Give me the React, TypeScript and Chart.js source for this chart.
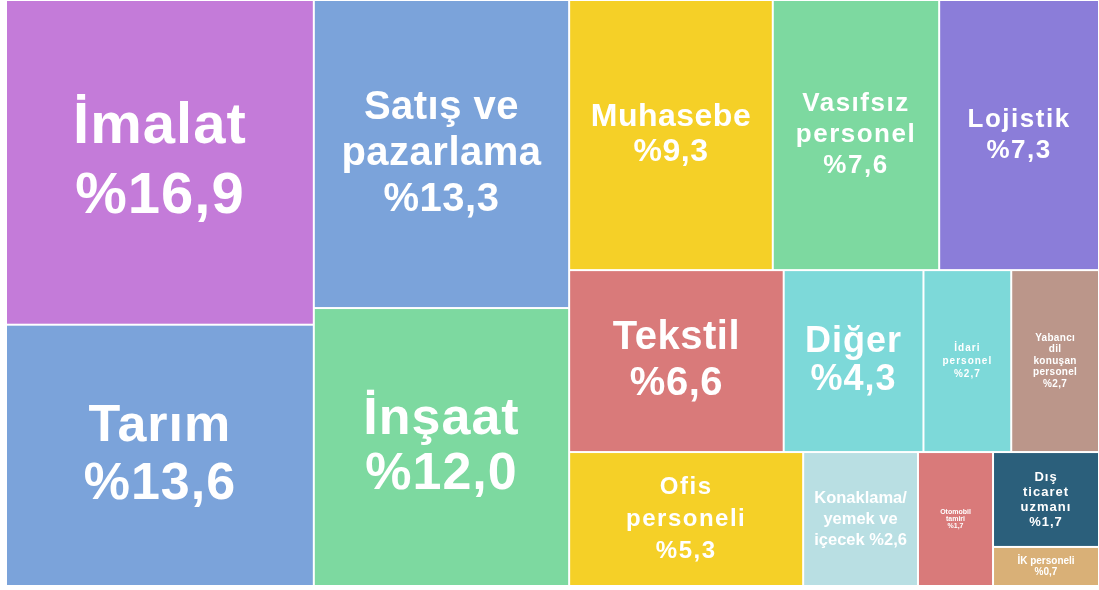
import React, { useEffect, useRef } from "react";
import { Chart, registerables } from "chart.js";

Chart.register(...registerables);

// ---- data ----
const categories = [
  "İmalat", "Tarım", "Satış ve pazarlama", "İnşaat",
  "Muhasebe", "Vasıfsız personel", "Lojistik",
  "Tekstil", "Ofis personeli", "Diğer", "Konaklama/yemek ve içecek",
  "İdari personel", "Yabancı dil konuşan personel",
  "Otomobil tamiri", "Dış ticaret uzmanı", "İK personeli",
];
const values = [16.9, 13.6, 13.3, 12.0, 9.3, 7.6, 7.3, 6.6, 5.3, 4.3, 2.6, 2.7, 2.7, 1.7, 1.7, 0.7];
const labelLines = [
  ["İmalat", "%16,9"],
  ["Tarım", "%13,6"],
  ["Satış ve", "pazarlama", "%13,3"],
  ["İnşaat", "%12,0"],
  ["Muhasebe", "%9,3"],
  ["Vasıfsız", "personel", "%7,6"],
  ["Lojistik", "%7,3"],
  ["Tekstil", "%6,6"],
  ["Ofis", "personeli", "%5,3"],
  ["Diğer", "%4,3"],
  ["Konaklama/", "yemek ve", "içecek %2,6"],
  ["İdari", "personel", "%2,7"],
  ["Yabancı", "dil", "konuşan", "personel", "%2,7"],
  ["Otomobil", "tamiri", "%1,7"],
  ["Dış", "ticaret", "uzmanı", "%1,7"],
  ["İK personeli", "%0,7"],
];

// ---- styles ----
const colors = [
  "#C47BD9", "#7BA3DA", "#7BA3DA", "#7DD9A0",
  "#F5D027", "#7DD9A0", "#8B7DD9",
  "#D97A7A", "#F5D027", "#7DD9D9", "#B9DFE3",
  "#7DD9D9", "#BB968A",
  "#D97A7A", "#2B5F7B", "#D9B077",
];
const fontSizes = [58, 52, 40, 52, 32, 26, 26, 40, 24, 36, 16.5, 10, 10, 7, 13, 10];
const lineHeights = [70, 58, 46, 55, 35, 31, 31, 46, 32, 38, 21, 13, 11.5, 7, 15, 11];
const letterSpacings = [1, 1, 0.5, 1, 0.5, 1.5, 1.5, 0.5, 1.5, 1, 0, 1, 0.3, 0, 1, 0];

// ---- treemap structure (indices into the arrays above) ----
type Node = number | { dir: "h" | "v"; children: Node[] };
const tree: Node = {
  dir: "h",
  children: [
    { dir: "v", children: [0, 1] },
    { dir: "v", children: [2, 3] },
    {
      dir: "v",
      children: [
        { dir: "h", children: [4, 5, 6] },
        {
          dir: "v",
          children: [
            { dir: "h", children: [7, 9, 11, 12] },
            { dir: "h", children: [8, 10, 13, { dir: "v", children: [14, 15] }] },
          ],
        },
      ],
    },
  ],
};

function sumNode(n: Node): number {
  if (typeof n === "number") return values[n];
  return n.children.reduce((s, c) => s + sumNode(c), 0);
}

type Cell = { i: number; x0: number; y0: number; x1: number; y1: number };
function layout(n: Node, x0: number, y0: number, x1: number, y1: number, out: Cell[]) {
  if (typeof n === "number") {
    out.push({ i: n, x0, y0, x1, y1 });
    return;
  }
  const total = sumNode(n);
  let pos = n.dir === "h" ? x0 : y0;
  for (const c of n.children) {
    const frac = sumNode(c) / total;
    if (n.dir === "h") {
      const w = (x1 - x0) * frac;
      layout(c, pos, y0, pos + w, y1, out);
      pos += w;
    } else {
      const h = (y1 - y0) * frac;
      layout(c, x0, pos, x1, pos + h, out);
      pos += h;
    }
  }
}

const treemapPlugin = {
  id: "treemapCells",
  afterDatasetsDraw(chart: any) {
    const { ctx, scales } = chart;
    const xs = scales.x;
    const ys = scales.y;
    const cells: Cell[] = [];
    layout(tree, 0, 0, 1, 1, cells);
    ctx.save();
    for (const c of cells) {
      const px0 = xs.getPixelForValue(c.x0);
      const px1 = xs.getPixelForValue(c.x1);
      const py0 = ys.getPixelForValue(c.y0);
      const py1 = ys.getPixelForValue(c.y1);
      const l = Math.min(px0, px1) + 1;
      const r = Math.max(px0, px1) - 1;
      const t = Math.min(py0, py1) + 1;
      const b = Math.max(py0, py1) - 1;
      ctx.fillStyle = colors[c.i];
      ctx.fillRect(l, t, r - l, b - t);

      const lines = labelLines[c.i];
      const fs = fontSizes[c.i];
      const lh = lineHeights[c.i];
      ctx.fillStyle = "#ffffff";
      ctx.font = `bold ${fs}px Arial, "Liberation Sans", sans-serif`;
      (ctx as any).letterSpacing = `${letterSpacings[c.i]}px`;
      ctx.textAlign = "center";
      ctx.textBaseline = "middle";
      const cx = (l + r) / 2;
      const cy = (t + b) / 2;
      const n = lines.length;
      lines.forEach((line, k) => {
        ctx.fillText(line, cx, cy + (k - (n - 1) / 2) * lh);
      });
    }
    (ctx as any).letterSpacing = "0px";
    ctx.restore();
  },
};

export default function App() {
  const canvasRef = useRef<HTMLCanvasElement | null>(null);

  useEffect(() => {
    if (!canvasRef.current) return;
    const chart = new Chart(canvasRef.current, {
      type: "scatter",
      data: {
        datasets: [
          {
            label: "Meslek grupları",
            data: categories.map(() => ({ x: NaN, y: NaN })),
            pointRadius: 0,
          },
        ],
      },
      options: {
        animation: false,
        responsive: false,
        devicePixelRatio: 1,
        layout: { padding: { left: 6, top: 0, right: 0, bottom: 4 } },
        scales: {
          x: { type: "linear", min: 0, max: 1, display: false },
          y: { type: "linear", min: 0, max: 1, reverse: true, display: false },
        },
        plugins: {
          legend: { display: false },
          tooltip: { enabled: false },
          title: { display: false },
        },
      },
      plugins: [treemapPlugin],
    });
    return () => chart.destroy();
  }, []);

  return (
    <div style={{ position: "fixed", left: 0, top: 0, width: 1099, height: 590, background: "#ffffff" }}>
      <canvas ref={canvasRef} width={1099} height={590} />
    </div>
  );
}
